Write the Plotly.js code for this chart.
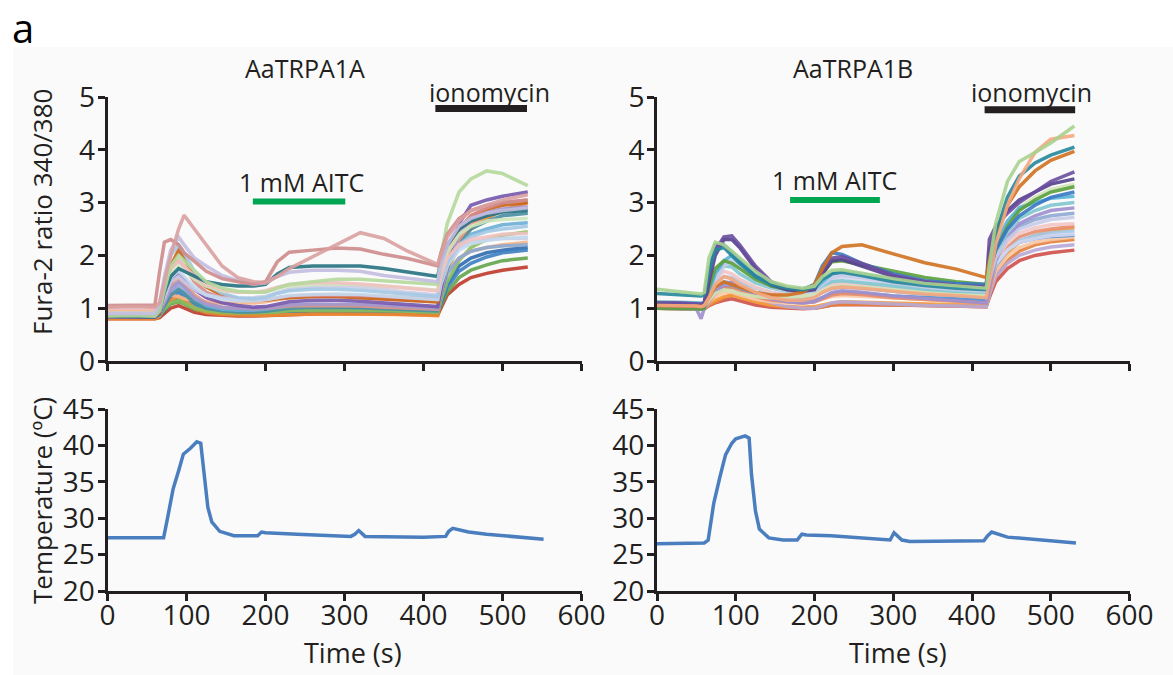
<!DOCTYPE html>
<html>
<head>
<meta charset="utf-8">
<script src="https://cdn.plot.ly/plotly-3.0.1.min.js"></script>
<style>html,body{margin:0;padding:0;background:#fff;}#chart{width:1173px;height:675px;}</style>
</head>
<body>
<div id="chart"></div>
<script>
// ---------- DATA ----------
// Panel A (AaTRPA1A) time points (s)
const timeA = [0, 30, 60, 66, 72, 80, 90, 97, 110, 125, 145, 165, 185, 200, 215, 230, 260, 290, 320, 350, 380, 418, 422, 430, 445, 460, 480, 500, 532];
const A_pink1   = [1.02,1.03,1.02,1.1,1.5,2.0,2.5,2.76,2.5,2.2,1.8,1.58,1.5,1.48,1.6,1.75,1.98,2.2,2.43,2.32,2.08,1.83,2.0,2.35,2.65,2.85,2.95,3.05,3.15];
const A_pink2   = [1.05,1.05,1.06,1.7,2.25,2.3,2.2,2.05,1.88,1.7,1.56,1.5,1.46,1.5,1.88,2.06,2.1,2.14,2.12,2.02,1.94,1.8,2.05,2.4,2.7,2.85,2.95,3.0,3.05];
const A_teal    = [0.85,0.85,0.84,0.95,1.3,1.6,1.75,1.7,1.6,1.5,1.45,1.42,1.42,1.45,1.65,1.77,1.8,1.8,1.8,1.75,1.68,1.6,1.9,2.2,2.5,2.65,2.75,2.82,2.85];
const A_lav     = [0.9,0.9,0.9,1.1,1.6,2.1,2.35,2.2,1.95,1.8,1.62,1.52,1.45,1.48,1.6,1.68,1.72,1.72,1.7,1.62,1.56,1.5,1.8,2.2,2.55,2.7,2.8,2.85,2.9];
const A_lgreen  = [0.85,0.86,0.85,0.95,1.35,1.8,2.0,1.9,1.7,1.5,1.38,1.32,1.3,1.3,1.38,1.45,1.5,1.55,1.55,1.52,1.48,1.45,2.0,2.6,3.2,3.45,3.6,3.55,3.32];
const A_purple  = [0.84,0.84,0.83,0.9,1.2,1.5,1.65,1.55,1.35,1.2,1.1,1.05,1.02,1.03,1.08,1.12,1.15,1.15,1.13,1.1,1.07,1.03,1.35,1.9,2.6,2.95,3.05,3.12,3.2];
const A_orange  = [0.8,0.8,0.8,0.85,1.0,1.15,1.22,1.15,1.0,0.92,0.88,0.87,0.86,0.86,0.87,0.88,0.89,0.89,0.89,0.88,0.88,0.86,1.2,1.7,2.2,2.5,2.7,2.85,3.0];
const A_red     = [0.8,0.8,0.8,0.82,0.9,1.0,1.05,1.0,0.92,0.88,0.86,0.85,0.85,0.86,0.87,0.88,0.89,0.9,0.9,0.89,0.88,0.87,1.0,1.25,1.45,1.58,1.66,1.72,1.78];
const A_blue    = [0.82,0.82,0.82,0.85,1.0,1.2,1.3,1.22,1.08,0.98,0.93,0.91,0.9,0.9,0.92,0.95,0.97,0.98,0.98,0.97,0.95,0.93,1.1,1.4,1.7,1.85,1.97,2.05,2.1];
const A_green   = [0.83,0.83,0.83,0.86,0.95,1.08,1.12,1.08,0.98,0.93,0.9,0.89,0.88,0.89,0.9,0.92,0.94,0.95,0.95,0.94,0.93,0.91,1.05,1.3,1.58,1.72,1.82,1.9,1.95];
const A_lblue   = [0.88,0.88,0.87,1.0,1.5,2.0,2.2,2.05,1.7,1.45,1.28,1.2,1.18,1.2,1.28,1.33,1.36,1.36,1.34,1.3,1.26,1.22,1.5,1.85,2.2,2.35,2.45,2.5,2.55];
const A_peach   = [0.95,0.95,0.95,1.05,1.2,1.25,1.22,1.18,1.15,1.12,1.1,1.1,1.1,1.12,1.16,1.2,1.22,1.22,1.2,1.18,1.15,1.12,1.35,1.7,1.95,2.08,2.15,2.2,2.25];
const A_lpink   = [1.0,1.0,1.0,1.1,1.45,1.75,1.9,1.8,1.6,1.45,1.35,1.3,1.3,1.33,1.4,1.45,1.48,1.48,1.46,1.42,1.38,1.33,1.6,1.95,2.2,2.3,2.35,2.4,2.42];
const A_sky     = [0.85,0.85,0.85,0.9,1.15,1.4,1.5,1.42,1.2,1.05,0.98,0.96,0.96,0.98,1.02,1.05,1.07,1.07,1.06,1.04,1.02,0.98,1.3,1.8,2.2,2.4,2.5,2.58,2.62];
const A_dorange = [0.85,0.85,0.85,0.92,1.3,1.8,2.1,1.95,1.6,1.4,1.25,1.18,1.15,1.15,1.18,1.2,1.22,1.22,1.2,1.18,1.15,1.12,1.45,2.0,2.5,2.75,2.88,2.95,3.0];
const A_glav    = [0.9,0.9,0.9,0.95,1.2,1.5,1.6,1.5,1.35,1.25,1.2,1.18,1.2,1.22,1.3,1.36,1.4,1.42,1.4,1.36,1.3,1.25,1.55,1.9,2.15,2.25,2.3,2.32,2.32];
const A_steel   = [0.88,0.88,0.88,0.92,1.1,1.3,1.4,1.32,1.15,1.05,1.0,0.98,0.98,0.99,1.02,1.04,1.05,1.05,1.04,1.02,1.0,0.98,1.25,1.65,1.95,2.08,2.15,2.18,2.2];
const A_lgreen2 = [0.9,0.9,0.9,1.0,1.35,1.65,1.8,1.72,1.55,1.42,1.33,1.3,1.3,1.32,1.38,1.42,1.45,1.46,1.45,1.42,1.38,1.34,1.65,2.05,2.4,2.55,2.65,2.68,2.7];
const A_lpurple = [0.85,0.85,0.85,0.9,1.12,1.35,1.48,1.4,1.2,1.08,1.02,1.0,0.99,1.0,1.03,1.06,1.08,1.08,1.07,1.05,1.03,1.0,1.3,1.85,2.4,2.7,2.82,2.88,2.92];
const A_salmon  = [0.85,0.85,0.85,0.9,1.15,1.45,1.58,1.48,1.25,1.1,1.02,1.0,0.99,1.0,1.02,1.04,1.05,1.05,1.04,1.02,1.0,0.98,1.3,1.8,2.3,2.6,2.75,2.85,2.9];
const A_pblue   = [0.9,0.9,0.9,0.98,1.3,1.58,1.7,1.6,1.4,1.25,1.17,1.14,1.14,1.16,1.2,1.24,1.26,1.27,1.26,1.23,1.2,1.16,1.45,1.8,2.1,2.22,2.28,2.32,2.35];
const A_tblue   = [0.84,0.84,0.84,0.88,1.05,1.25,1.35,1.28,1.1,1.0,0.95,0.93,0.93,0.94,0.97,1.0,1.02,1.02,1.01,0.99,0.97,0.95,1.25,1.75,2.25,2.5,2.65,2.75,2.8];
const A_rose    = [0.86,0.86,0.86,0.95,1.35,1.75,1.9,1.8,1.5,1.3,1.2,1.16,1.15,1.16,1.2,1.23,1.25,1.25,1.24,1.22,1.2,1.17,1.5,2.0,2.5,2.75,2.9,3.0,3.05];
const A_olive   = [0.84,0.84,0.84,0.87,0.98,1.1,1.15,1.1,1.0,0.95,0.92,0.91,0.91,0.92,0.93,0.95,0.96,0.96,0.96,0.95,0.94,0.92,1.15,1.5,1.9,2.15,2.3,2.38,2.45];
const A_dblue   = [0.83,0.83,0.83,0.85,0.95,1.1,1.18,1.12,1.0,0.93,0.9,0.89,0.89,0.9,0.91,0.92,0.93,0.93,0.93,0.92,0.91,0.9,1.1,1.45,1.8,1.95,2.05,2.1,2.15];

// Panel B (AaTRPA1B) time points (s)
const timeB = [0, 30, 50, 56, 60, 66, 74, 85, 95, 105, 125, 145, 165, 185, 200, 210, 222, 235, 260, 300, 340, 380, 418, 422, 430, 445, 460, 480, 500, 530];
const B_lgreen  = [1.36,1.32,1.28,1.27,1.3,1.95,2.25,2.2,2.08,1.95,1.7,1.5,1.42,1.38,1.42,1.6,1.72,1.73,1.66,1.56,1.47,1.42,1.38,1.8,2.6,3.4,3.78,3.95,4.13,4.45];
const B_peach   = [1.05,1.05,1.04,1.03,1.05,1.2,1.45,1.6,1.55,1.45,1.3,1.2,1.15,1.15,1.2,1.3,1.38,1.4,1.38,1.32,1.27,1.24,1.2,1.5,2.2,2.95,3.45,3.95,4.2,4.27];
const B_teal    = [1.28,1.26,1.24,1.23,1.25,1.7,2.1,2.15,2.0,1.85,1.6,1.45,1.38,1.35,1.4,1.55,1.65,1.68,1.62,1.5,1.43,1.38,1.35,1.7,2.4,3.1,3.5,3.75,3.9,4.05];
const B_dorange = [1.05,1.05,1.04,1.03,1.05,1.2,1.4,1.5,1.45,1.4,1.3,1.25,1.25,1.3,1.45,1.75,2.05,2.17,2.2,2.03,1.86,1.74,1.58,1.9,2.4,2.95,3.3,3.6,3.8,3.97];
const B_purple  = [1.1,1.1,1.08,1.07,1.1,1.6,2.1,2.35,2.37,2.2,1.8,1.5,1.38,1.35,1.38,1.7,1.95,1.98,1.85,1.62,1.5,1.43,1.4,2.3,2.55,2.8,3.0,3.2,3.4,3.58];
const B_blue    = [1.1,1.1,1.09,1.08,1.1,1.7,2.2,2.2,2.05,1.9,1.62,1.45,1.38,1.35,1.45,1.8,2.05,2.02,1.85,1.65,1.52,1.47,1.45,1.7,2.1,2.5,2.75,2.95,3.1,3.2];
const B_green   = [1.0,1.0,0.99,0.98,1.0,1.4,1.75,1.9,1.85,1.75,1.55,1.42,1.36,1.34,1.4,1.65,1.88,1.9,1.82,1.7,1.58,1.5,1.45,1.7,2.1,2.55,2.85,3.05,3.2,3.3];
const B_sky     = [1.08,1.07,1.06,1.05,1.07,1.3,1.65,1.9,2.0,1.85,1.6,1.42,1.35,1.32,1.36,1.5,1.65,1.7,1.65,1.55,1.48,1.43,1.4,1.7,2.2,2.65,2.9,3.0,3.08,3.12];
const B_llav    = [1.05,1.05,1.04,1.03,1.05,1.25,1.5,1.8,1.9,1.8,1.55,1.4,1.33,1.3,1.33,1.45,1.58,1.62,1.58,1.48,1.4,1.35,1.32,1.55,1.95,2.3,2.5,2.6,2.68,2.72];
const B_lavp    = [1.0,1.0,0.99,0.8,1.0,1.15,1.3,1.45,1.5,1.42,1.28,1.18,1.12,1.1,1.12,1.2,1.3,1.33,1.3,1.23,1.18,1.14,1.1,1.4,1.9,2.35,2.6,2.75,2.85,2.9];
const B_orange  = [1.0,1.0,0.99,0.98,1.0,1.08,1.15,1.22,1.25,1.2,1.12,1.06,1.03,1.02,1.03,1.06,1.1,1.12,1.11,1.09,1.08,1.07,1.05,1.3,1.7,2.05,2.25,2.38,2.46,2.52];
const B_red     = [1.0,1.0,0.99,0.98,0.99,1.05,1.1,1.15,1.18,1.14,1.06,1.02,1.0,0.99,1.0,1.03,1.06,1.07,1.07,1.06,1.05,1.04,1.03,1.2,1.5,1.75,1.9,2.0,2.05,2.1];
const B_peach2  = [1.05,1.05,1.04,1.03,1.04,1.12,1.22,1.3,1.3,1.25,1.17,1.12,1.1,1.1,1.12,1.17,1.22,1.24,1.23,1.2,1.17,1.15,1.13,1.35,1.7,1.98,2.15,2.25,2.3,2.35];
const B_lblue   = [1.1,1.1,1.09,1.08,1.1,1.3,1.5,1.6,1.58,1.5,1.38,1.3,1.25,1.22,1.25,1.32,1.4,1.43,1.4,1.35,1.3,1.26,1.23,1.45,1.8,2.1,2.28,2.38,2.43,2.46];
const B_ppink   = [1.12,1.11,1.1,1.09,1.1,1.35,1.58,1.7,1.65,1.55,1.4,1.3,1.25,1.23,1.26,1.35,1.45,1.48,1.45,1.38,1.32,1.28,1.25,1.5,1.9,2.25,2.42,2.52,2.58,2.6];
const B_lgreen2 = [1.05,1.05,1.04,1.03,1.04,1.15,1.28,1.35,1.33,1.28,1.22,1.2,1.2,1.22,1.26,1.33,1.4,1.42,1.4,1.35,1.3,1.27,1.25,1.55,2.1,2.6,2.9,3.1,3.25,3.35];
const B_gblue   = [1.05,1.05,1.04,1.03,1.05,1.2,1.38,1.5,1.48,1.4,1.3,1.24,1.2,1.2,1.22,1.3,1.38,1.4,1.38,1.32,1.27,1.24,1.22,1.45,1.9,2.3,2.55,2.68,2.75,2.8];
const B_lpurple = [1.0,1.0,0.99,0.98,0.99,1.1,1.3,1.42,1.45,1.38,1.22,1.1,1.03,1.0,1.0,1.04,1.1,1.12,1.1,1.07,1.05,1.04,1.03,1.25,1.6,1.85,2.0,2.1,2.16,2.2];
const B_dpurple = [1.05,1.05,1.04,1.03,1.05,1.5,2.0,2.3,2.3,2.15,1.75,1.45,1.35,1.32,1.35,1.65,1.9,1.92,1.8,1.6,1.47,1.42,1.38,2.1,2.5,2.85,3.05,3.2,3.35,3.45];
const B_tlight  = [1.12,1.11,1.1,1.09,1.1,1.4,1.7,1.8,1.78,1.65,1.48,1.38,1.32,1.3,1.33,1.42,1.5,1.52,1.48,1.42,1.36,1.32,1.3,1.55,2.0,2.45,2.7,2.85,2.95,3.0];
const B_plav    = [1.06,1.06,1.05,1.04,1.05,1.2,1.5,1.85,1.98,1.85,1.6,1.42,1.35,1.32,1.35,1.45,1.55,1.58,1.55,1.45,1.38,1.34,1.3,1.5,1.85,2.1,2.25,2.32,2.37,2.4];
const B_salmon  = [1.02,1.02,1.01,1.0,1.01,1.12,1.28,1.38,1.38,1.32,1.22,1.15,1.12,1.1,1.12,1.18,1.25,1.28,1.26,1.2,1.16,1.13,1.1,1.35,1.8,2.15,2.35,2.45,2.5,2.55];
const B_borange = [1.0,1.0,0.99,0.98,0.99,1.05,1.12,1.2,1.25,1.22,1.12,1.05,1.02,1.0,1.0,1.02,1.06,1.08,1.07,1.06,1.05,1.04,1.03,1.25,1.6,1.9,2.08,2.2,2.26,2.3];
const B_blue2   = [1.04,1.04,1.03,1.02,1.04,1.15,1.28,1.38,1.4,1.35,1.25,1.18,1.14,1.12,1.14,1.2,1.27,1.3,1.28,1.23,1.2,1.17,1.15,1.4,1.8,2.1,2.25,2.32,2.36,2.38];

// Temperature traces
const tempTimeA = [0, 20, 30, 60, 71, 76, 83, 90, 96, 105, 113, 118, 122, 127, 132, 142, 160, 190, 195, 200, 240, 280, 308, 313, 318, 326, 360, 400, 428, 432, 437, 457, 480, 500, 530, 552];
const tempA     = [27.3, 27.3, 27.2, 27.2, 27.3, 30, 34, 36.5, 38.8, 39.6, 40.5, 40.3, 36, 31.5, 29.5, 28.2, 27.6, 27.6, 28.1, 28.0, 27.8, 27.6, 27.5, 27.8, 28.3, 27.5, 27.4, 27.4, 27.5, 28.2, 28.6, 28.1, 27.8, 27.6, 27.3, 27.1];
const tempTimeB = [0, 30, 60, 65, 72, 80, 87, 95, 100, 112, 117, 120, 125, 130, 142, 160, 178, 184, 190, 221, 271, 296, 301, 311, 321, 350, 415, 420, 425, 445, 495, 532];
const tempB     = [26.5, 26.6, 26.6, 27, 32, 35.7, 38.7, 40.3, 40.9, 41.3, 41.0, 36, 31, 28.5, 27.3, 27.0, 27.0, 27.8, 27.7, 27.6, 27.2, 27.0, 28.0, 27.0, 26.8, 26.8, 26.9, 27.6, 28.1, 27.4, 27.0, 26.6];

// Labels
const panelTitles = ["AaTRPA1A", "AaTRPA1B"];
const xTicks = [0, 100, 200, 300, 400, 500, 600];
const ratioTicks = [0, 1, 2, 3, 4, 5];
const tempTicks = [20, 25, 30, 35, 40, 45];
const ionoPeriodA = [415, 531];
const aitcPeriodA = [184, 301];
const ionoPeriodB = [416, 531];
const aitcPeriodB = [169, 283];

// ---------- STYLE ----------
const seriesA = [A_red, A_green, A_dblue, A_blue, A_orange, A_olive, A_peach, A_steel, A_tblue, A_sky, A_salmon, A_lpurple, A_purple, A_dorange, A_rose, A_glav, A_pblue, A_lblue, A_lgreen2, A_lpink, A_teal, A_lgreen, A_lav, A_pink2, A_pink1];
const colorsA = ['#c0392b','#62a44a','#2e6aae','#3b7ec2','#f0892e','#8dbf5b','#f4b48a','#8ba7cf','#4a8ea3','#6aaed6','#e59580','#a597cd','#7457ad','#c8641c','#d98c8c','#cbcbe4','#c3d8ee','#a3c8e4','#cde5bc','#efc1c1','#23717f','#b5d89c','#c2bde0','#cd8b8b','#d9a0a0'];
const seriesB = [B_red, B_borange, B_orange, B_lpurple, B_peach2, B_blue2, B_salmon, B_lblue, B_plav, B_gblue, B_ppink, B_lavp, B_lgreen2, B_tlight, B_llav, B_sky, B_green, B_blue, B_dpurple, B_purple, B_dorange, B_teal, B_peach, B_lgreen];
const colorsB = ['#cf4f49','#e3803e','#f49a3c','#b6a8d7','#f7c6a4','#4d8fd1','#e88d6d','#a2c8e8','#d5d7ee','#8ea9d2','#f2c5c5','#9d8fcf','#cfe3b6','#7ec6cf','#c6cbe8','#58b3d6','#5a9e3c','#3a78c3','#54408c','#6a4c9e','#d0701f','#25879a','#f4a77f','#a9d18e'];

const W = 1173, H = 675;
const px = v => v / W;
const py = v => 1 - v / H;
const FONT = '"Open Sans", "Noto Sans", sans-serif';
const INK = '#231f20';

const traces = [];
seriesA.forEach((vals, i) => traces.push({x: timeA, y: vals, xaxis: 'x', yaxis: 'y', type: 'scatter', mode: 'lines',
  line: {color: colorsA[i], width: 3.5}, opacity: 0.9, hoverinfo: 'skip', showlegend: false}));
seriesB.forEach((vals, i) => traces.push({x: timeB, y: vals, xaxis: 'x2', yaxis: 'y2', type: 'scatter', mode: 'lines',
  line: {color: colorsB[i], width: 3.5}, opacity: 0.9, hoverinfo: 'skip', showlegend: false}));
traces.push({x: tempTimeA, y: tempA, xaxis: 'x3', yaxis: 'y3', type: 'scatter', mode: 'lines',
  line: {color: '#4a7ebf', width: 3.5}, showlegend: false});
traces.push({x: tempTimeB, y: tempB, xaxis: 'x4', yaxis: 'y4', type: 'scatter', mode: 'lines',
  line: {color: '#4a7ebf', width: 3.5}, showlegend: false});

const xLeft = [px(107.5), px(581.5)];
const xRight = [px(657), px(1129.5)];
const yTop = [py(361), py(97)];
const yBot = [py(591), py(409)];

function axisBase(extra) {
  return Object.assign({
    showline: true, linecolor: INK, linewidth: 3, ticks: 'outside', ticklen: 7, tickwidth: 3, tickcolor: INK,
    showgrid: false, zeroline: false, tickfont: {family: FONT, size: 28, color: INK}, fixedrange: true
  }, extra);
}

const layout = {
  width: W, height: H,
  margin: {l: 0, r: 0, t: 0, b: 0},
  paper_bgcolor: '#ffffff', plot_bgcolor: 'rgba(0,0,0,0)',
  showlegend: false,
  xaxis:  axisBase({domain: xLeft,  range: [0, 600], tickvals: xTicks, showticklabels: false, anchor: 'y'}),
  yaxis:  axisBase({domain: yTop,   range: [0, 5], tickvals: ratioTicks, anchor: 'x', ticklabelstandoff: -3}),
  xaxis2: axisBase({domain: xRight, range: [0, 600], tickvals: xTicks, showticklabels: false, anchor: 'y2'}),
  yaxis2: axisBase({domain: yTop,   range: [0, 5], tickvals: ratioTicks, anchor: 'x2', ticklabelstandoff: -3}),
  xaxis3: axisBase({domain: xLeft,  range: [0, 600], tickvals: xTicks, anchor: 'y3', ticklabelstandoff: -10}),
  yaxis3: axisBase({domain: yBot,   range: [20, 45], tickvals: tempTicks, anchor: 'x3', ticklabelstandoff: -3}),
  xaxis4: axisBase({domain: xRight, range: [0, 600], tickvals: xTicks, anchor: 'y4', ticklabelstandoff: -10}),
  yaxis4: axisBase({domain: yBot,   range: [20, 45], tickvals: tempTicks, anchor: 'x4', ticklabelstandoff: -3}),
  shapes: [
    {type: 'rect', xref: 'paper', yref: 'paper', x0: px(13), x1: 1, y0: 0, y1: py(47), fillcolor: '#fafafa', line: {width: 0}, layer: 'below'},
    {type: 'line', xref: 'x', yref: 'y', x0: ionoPeriodA[0], x1: ionoPeriodA[1], y0: 4.78, y1: 4.78, line: {color: INK, width: 7}},
    {type: 'line', xref: 'x', yref: 'y', x0: aitcPeriodA[0], x1: aitcPeriodA[1], y0: 3.02, y1: 3.02, line: {color: '#00a651', width: 6}},
    {type: 'line', xref: 'x2', yref: 'y2', x0: ionoPeriodB[0], x1: ionoPeriodB[1], y0: 4.76, y1: 4.76, line: {color: INK, width: 7}},
    {type: 'line', xref: 'x2', yref: 'y2', x0: aitcPeriodB[0], x1: aitcPeriodB[1], y0: 3.05, y1: 3.05, line: {color: '#00a651', width: 6}}
  ],
  annotations: [
    {text: 'a', xref: 'paper', yref: 'paper', x: px(10), y: py(28), xanchor: 'left', yanchor: 'middle', showarrow: false, font: {family: FONT, size: 40, color: '#000'}},
    {text: panelTitles[0], xref: 'paper', yref: 'paper', x: px(305), y: py(68), xanchor: 'center', yanchor: 'middle', showarrow: false, font: {family: FONT, size: 25, color: INK}},
    {text: panelTitles[1], xref: 'paper', yref: 'paper', x: px(853), y: py(68), xanchor: 'center', yanchor: 'middle', showarrow: false, font: {family: FONT, size: 25, color: INK}},
    {text: 'ionomycin', xref: 'x', yref: 'paper', x: (ionoPeriodA[0] + ionoPeriodA[1]) / 2 + 11, y: py(92), xanchor: 'center', yanchor: 'middle', showarrow: false, font: {family: FONT, size: 25, color: INK}},
    {text: '1 mM AITC', xref: 'x', yref: 'paper', x: 246, y: py(182), xanchor: 'center', yanchor: 'middle', showarrow: false, font: {family: FONT, size: 25, color: INK}},
    {text: 'ionomycin', xref: 'x2', yref: 'paper', x: (ionoPeriodB[0] + ionoPeriodB[1]) / 2 + 2, y: py(92), xanchor: 'center', yanchor: 'middle', showarrow: false, font: {family: FONT, size: 25, color: INK}},
    {text: '1 mM AITC', xref: 'x2', yref: 'paper', x: 226, y: py(180), xanchor: 'center', yanchor: 'middle', showarrow: false, font: {family: FONT, size: 25, color: INK}},
    {text: 'Fura-2 ratio 340/380', xref: 'paper', yref: 'paper', x: px(42), y: py(212), textangle: -90, xanchor: 'center', yanchor: 'middle', showarrow: false, font: {family: FONT, size: 26, color: INK}},
    {text: 'Temperature (ºC)', xref: 'paper', yref: 'paper', x: px(42), y: py(501), textangle: -90, xanchor: 'center', yanchor: 'middle', showarrow: false, font: {family: FONT, size: 26, color: INK}},
    {text: 'Time (s)', xref: 'paper', yref: 'paper', x: px(353), y: py(652), xanchor: 'center', yanchor: 'middle', showarrow: false, font: {family: FONT, size: 27, color: INK}},
    {text: 'Time (s)', xref: 'paper', yref: 'paper', x: px(898), y: py(652), xanchor: 'center', yanchor: 'middle', showarrow: false, font: {family: FONT, size: 27, color: INK}}
  ]
};

Plotly.newPlot('chart', traces, layout, {displayModeBar: false, staticPlot: true});
</script>
</body>
</html>
